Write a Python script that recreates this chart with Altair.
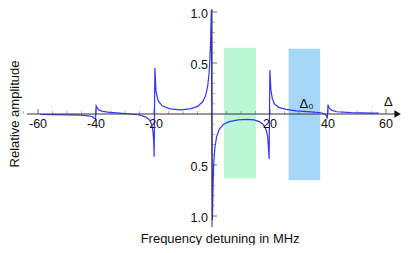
import altair as alt
import pandas as pd

# ---- data ----
curve_x = [-59.3, -50, -45, -42, -41.0, -40.5, -40.15, -39.95, -39.6, -39.0, -38.0, -36, -32, -28,
           -25, -22.8, -21.5, -20.8, -20.35, -20.1, -19.95, -19.7, -19.3, -18.6, -17.2, -14.5,
           -11, -7.5, -5, -3.2, -2.2, -1.5, -1.0, -0.7, -0.45, -0.25, 0.15, 0.35, 0.6, 1.0,
           1.6, 2.5, 4, 6, 9, 12, 14.5, 16.3, 17.6, 18.6, 19.2, 19.7, 19.95, 20.3, 20.8,
           21.5, 23, 25.5, 29, 34, 37.5, 38.8, 39.4, 39.75, 40.0, 40.4, 41.2, 43, 48, 55, 57.5]
curve_y = [-0.005, -0.008, -0.012, -0.02, -0.03, -0.045, -0.05, 0.08, 0.06, 0.04, 0.028, 0.018, 0.008, 0.0,
           -0.01, -0.03, -0.06, -0.1, -0.17, -0.27, -0.42, 0.45, 0.22, 0.13, 0.08, 0.05,
           0.04, 0.05, 0.075, 0.12, 0.18, 0.27, 0.4, 0.55, 0.75, 1.02, -1.04, -0.72, -0.48, -0.33,
           -0.22, -0.15, -0.1, -0.075, -0.058, -0.052, -0.058, -0.075, -0.1, -0.15, -0.22, -0.44, 0.43, 0.24, 0.15,
           0.1, 0.065, 0.045, 0.03, 0.02, 0.012, 0.003, -0.015, -0.045, 0.09, 0.06, 0.038, 0.022, 0.013, 0.009, 0.008]

rect_x1 = [4.1, 26.4]
rect_x2 = [15.2, 37.3]
rect_y1 = [-0.63, -0.65]
rect_y2 = [0.65, 0.64]
rect_fill = ["#b9f7d5", "#a6d7f8"]

x_tick_values = [-60, -40, -20, 20, 40, 60]
x_tick_labels = ["-60", "-40", "-20", "20", "40", "60"]
x_minor_values = [-65, -55, -50, -45, -35, -30, -25, -15, -10, -5, 5, 10, 15,
                  25, 30, 35, 45, 50, 55]
y_tick_values = [1.0, 0.5, -0.5, -1.0]
y_tick_labels = ["1.0", "0.5", "0.5", "1.0"]
y_minor_values = [-0.9, -0.8, -0.7, -0.6, -0.4, -0.3, -0.2, -0.1,
                  0.1, 0.2, 0.3, 0.4, 0.6, 0.7, 0.8, 0.9]

x_axis_span = [-63.8, 63.2]
y_axis_span = [-1.11, 1.03]

x_title = "Frequency detuning in MHz"
y_title = "Relative amplitude"
annot_text = ["Δ₀", "Δ"]
annot_x = [32.6, 60.8]
annot_y = [0.1, 0.12]

# ---- tables ----
curve_df = pd.DataFrame({"x": curve_x, "y": curve_y, "i": range(len(curve_x))})
rect_df = pd.DataFrame({"x1": rect_x1, "x2": rect_x2, "y1": rect_y1, "y2": rect_y2, "fill": rect_fill})
xt_df = pd.DataFrame({"x": x_tick_values, "label": x_tick_labels, "y": 0})
xm_df = pd.DataFrame({"x": x_minor_values, "y": 0})
yt_df = pd.DataFrame({"y": y_tick_values, "label": y_tick_labels, "x": 0})
ym_df = pd.DataFrame({"y": y_minor_values, "x": 0})
xaxis_df = pd.DataFrame({"x": [x_axis_span[0]], "x2": [x_axis_span[1]], "y": [0]})
yaxis_df = pd.DataFrame({"y": [y_axis_span[0]], "y2": [y_axis_span[1]], "x": [0]})
arrow_df = pd.DataFrame({"x": [x_axis_span[1] + 0.8], "y": [0]})
annot_df = pd.DataFrame({"x": annot_x, "y": annot_y, "t": annot_text})
xtitle_df = pd.DataFrame({"x": [2.8], "y": [-1.222], "t": [x_title]})
ytitle_df = pd.DataFrame({"x": [-67.9], "y": [0.0], "t": [y_title]})

W, H = 400, 237
xs = alt.Scale(domain=[-204 / 2.9, (W - 204) / 2.9], nice=False, zero=False)
ys = alt.Scale(domain=[-(H - 106) / 102, 106 / 102], nice=False, zero=False)
X = lambda f="x": alt.X(f"{f}:Q", scale=xs, axis=None)
Y = lambda f="y": alt.Y(f"{f}:Q", scale=ys, axis=None)

FONT = "Liberation Sans"
AX = "#333333"

rects = alt.Chart(rect_df).mark_rect().encode(
    x=X("x1"), x2="x2", y=Y("y1"), y2="y2", color=alt.Color("fill:N", scale=None))

xaxis = alt.Chart(xaxis_df).mark_rule(color=AX, strokeWidth=1).encode(x=X(), x2="x2", y=Y())
yaxis = alt.Chart(yaxis_df).mark_rule(color=AX, strokeWidth=1).encode(y=Y(), y2="y2", x=X())
arrow = alt.Chart(arrow_df).mark_point(shape="triangle-right", filled=True, size=55,
                                       color="#111111", opacity=1).encode(x=X(), y=Y())

xmaj = alt.Chart(xt_df).mark_tick(orient="vertical", size=5, thickness=1, yOffset=-2.5,
                                  color=AX).encode(x=X(), y=Y())
xmin = alt.Chart(xm_df).mark_tick(orient="vertical", size=3, thickness=0.8, yOffset=-1.5,
                                  color="#777777").encode(x=X(), y=Y())
ymaj = alt.Chart(yt_df).mark_tick(orient="horizontal", size=5, thickness=1, xOffset=2.5,
                                  color=AX).encode(x=X(), y=Y())
ymin = alt.Chart(ym_df).mark_tick(orient="horizontal", size=3, thickness=0.8, xOffset=1.5,
                                  color="#777777").encode(x=X(), y=Y())

xlab = alt.Chart(xt_df).mark_text(baseline="top", dy=4, fontSize=12.5, font=FONT,
                                  color="#111111").encode(x=X(), y=Y(), text="label:N")
ylab = alt.Chart(yt_df).mark_text(align="right", baseline="middle", dx=-4, dy=1.5, fontSize=12.5,
                                  font=FONT, color="#111111").encode(x=X(), y=Y(), text="label:N")

line = alt.Chart(curve_df).mark_line(color="#3535ff", strokeWidth=1.2).encode(
    x=X(), y=Y(), order="i:Q")

annot = alt.Chart(annot_df).mark_text(fontSize=13, font=FONT, color="#111111",
                                      baseline="middle").encode(x=X(), y=Y(), text="t:N")
xtitle = alt.Chart(xtitle_df).mark_text(fontSize=13, font=FONT, color="#111111",
                                        baseline="middle").encode(x=X(), y=Y(), text="t:N")
ytitle = alt.Chart(ytitle_df).mark_text(fontSize=13, font=FONT, color="#111111", angle=270,
                                        baseline="middle").encode(x=X(), y=Y(), text="t:N")

chart = alt.layer(rects, xmin, ymin, xmaj, ymaj, line, xaxis, yaxis, arrow,
                  xlab, ylab, annot, xtitle, ytitle).properties(
    width=W, height=H, padding=0, autosize="none", background="white"
).configure_view(stroke=None)

chart.save("out.html", embed_options={"renderer": "svg", "actions": False})
